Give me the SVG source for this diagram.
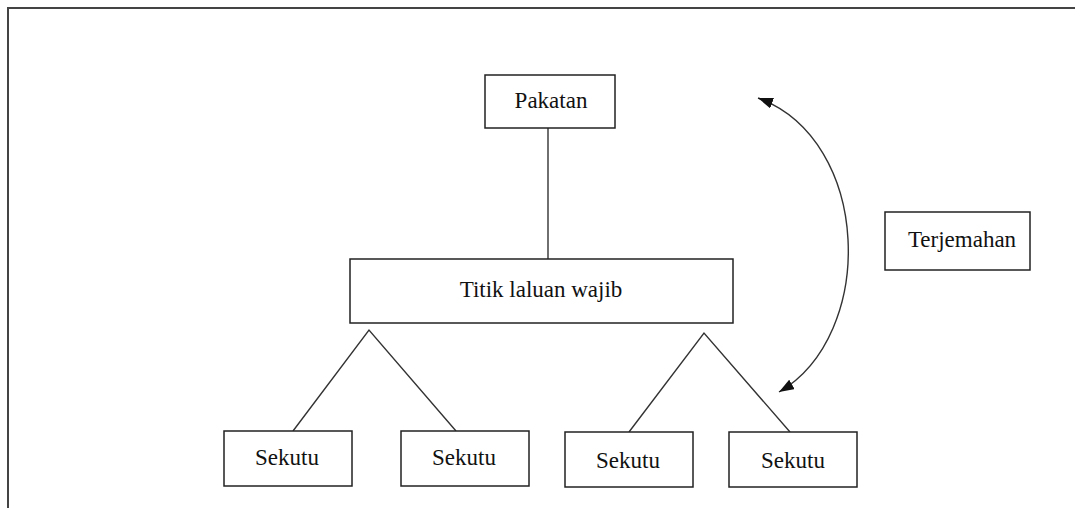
<svg xmlns="http://www.w3.org/2000/svg" width="1075" height="508" viewBox="0 0 1075 508">
<style>
.box{fill:#fff;stroke:#222;stroke-width:1.5}
.lbl{font-family:"Liberation Serif","Times New Roman",serif;font-size:23px;fill:#111;text-anchor:middle}
.ln{fill:none;stroke:#333;stroke-width:1.4}
</style>
<defs>
<marker id="ah" viewBox="0 0 15 11" refX="15" refY="5.5" markerWidth="15" markerHeight="11" markerUnits="userSpaceOnUse" orient="auto-start-reverse">
<path d="M0,0 L15,5.5 L0,11 Z" fill="#111"/>
</marker>
</defs>
<rect width="1075" height="508" fill="#fff"/>
<path d="M8,508 L8,8 L1075,8" fill="none" stroke="#444" stroke-width="2"/>
<g id="connectors">
<line class="ln" x1="548" y1="128" x2="548" y2="259"/>
<polyline class="ln" points="293,431 369,330 456,431"/>
<polyline class="ln" points="629,432 704,333 790,432"/>
<path class="ln" d="M758,98 C872,140 877,335 779,392" marker-start="url(#ah)" marker-end="url(#ah)"/>
</g>
<g id="pakatan"><rect class="box" x="485" y="75" width="130" height="53"/><text class="lbl" x="551" y="108">Pakatan</text></g>
<g id="titik"><rect class="box" x="350" y="259" width="383" height="64"/><text class="lbl" x="541" y="297">Titik laluan wajib</text></g>
<g id="terjemahan"><rect class="box" x="885" y="212" width="145" height="58"/><text class="lbl" x="962" y="247">Terjemahan</text></g>
<g id="sekutu1"><rect class="box" x="224" y="431" width="128" height="55"/><text class="lbl" x="287" y="465">Sekutu</text></g>
<g id="sekutu2"><rect class="box" x="401" y="431" width="128" height="55"/><text class="lbl" x="464" y="465">Sekutu</text></g>
<g id="sekutu3"><rect class="box" x="565" y="432" width="128" height="55"/><text class="lbl" x="628" y="468">Sekutu</text></g>
<g id="sekutu4"><rect class="box" x="729" y="432" width="128" height="55"/><text class="lbl" x="793" y="468">Sekutu</text></g>
</svg>
